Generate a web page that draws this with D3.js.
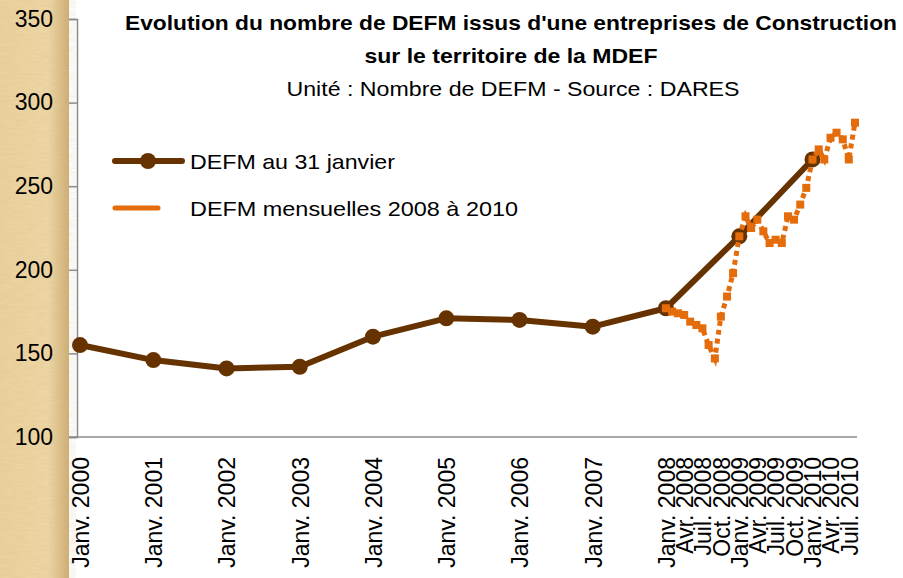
<!DOCTYPE html>
<html>
<head>
<meta charset="utf-8">
<script src="https://cdn.jsdelivr.net/npm/d3@7"></script>
<style>
  body { margin: 0; background: #fff; }
  text { font-family: "Liberation Sans", Arial, sans-serif; fill: #000; }
</style>
</head>
<body>
<div class="chart"></div>
<script>
//Annual values (31 January), Janv. 2000 -> Janv. 2010
var annualYears = [2000, 2001, 2002, 2003, 2004, 2005, 2006, 2007, 2008, 2009, 2010];
var annualValues = [155, 146, 141, 142, 160, 171, 170, 166, 177, 220, 266];

//Monthly values, Janv. 2008 -> Août 2010
var monthlyValues = [
  177, 175, 174, 173, 169, 167, 165, 155, 147, 172, 184, 198,
  220, 232, 225, 230, 223, 216, 218, 216, 232, 230, 239, 249,
  266, 272, 266, 279, 282, 278, 266, 288
];

//Tick labels on the time axis
var yTicks = [100, 150, 200, 250, 300, 350];
var tickYears = [2000, 2001, 2002, 2003, 2004, 2005, 2006, 2007];
var quarterYears = [2008, 2009, 2010];
var quarterMonths = [0, 3, 6, 9];
var monthNames = {0: "Janv.", 3: "Avr.", 6: "Juil.", 9: "Oct."};

var titleLines = [
  "Evolution  du nombre de DEFM issus  d'une entreprises de Construction",
  "sur le territoire de la MDEF",
  "Unité : Nombre de DEFM - Source : DARES"
];
var seriesNames = ["DEFM au 31 janvier", "DEFM mensuelles 2008 à 2010"];

function init(){
  var w = 903, h = 578;
  var brown = "#663300", orange = "#e46c0a";

  var svg = d3.select(".chart").append("svg")
              .attr("width", w)
              .attr("height", h);

  //Parchment strip on the left
  var defs = svg.append("defs");
  var grad = defs.append("linearGradient").attr("id", "parch");
  grad.append("stop").attr("offset", "0%").attr("stop-color", "#ecd39e");
  grad.append("stop").attr("offset", "70%").attr("stop-color", "#efd8a6");
  grad.append("stop").attr("offset", "100%").attr("stop-color", "#cfae74");
  var filt = defs.append("filter").attr("id", "grain");
  filt.append("feTurbulence").attr("type", "fractalNoise")
      .attr("baseFrequency", "0.08 0.5").attr("numOctaves", 3).attr("seed", 4);
  filt.append("feColorMatrix").attr("type", "matrix")
      .attr("values", "0 0 0 0 0.55  0 0 0 0 0.42  0 0 0 0 0.2  0 0 0 0.45 -0.05");

  svg.append("rect").attr("x", 0).attr("y", 0).attr("width", 69).attr("height", h)
     .attr("fill", "url(#parch)");
  svg.append("rect").attr("x", 0).attr("y", 0).attr("width", 69).attr("height", h)
     .attr("filter", "url(#grain)").attr("opacity", 0.55);

  //Scales
  var x = d3.scaleTime()
            .domain([new Date(2000, 0, 1), new Date(2010, 7, 1)])
            .range([80, 855]);
  var y = d3.scaleLinear()
            .domain([100, 350])
            .range([437, 19]);

  //Y axis
  var yAxis = d3.axisLeft(y).tickValues(yTicks).tickSize(8).tickPadding(16);
  var gy = svg.append("g").attr("transform", "translate(77,0)").call(yAxis);
  gy.select(".domain").attr("stroke", "#8c8c8c").attr("stroke-width", 1.5);
  gy.selectAll(".tick line").attr("stroke", "#8c8c8c").attr("stroke-width", 1.5);
  gy.selectAll(".tick text").style("font-size", "23px").attr("fill", "#000");

  //X axis
  var tickDates = tickYears.map(function(yr){ return new Date(yr, 0, 1); });
  quarterYears.forEach(function(yr){
    quarterMonths.forEach(function(m){
      if(yr == 2010 && m > 6) return;
      tickDates.push(new Date(yr, m, 1));
    });
  });
  var xAxis = d3.axisBottom(x).tickValues(tickDates).tickSize(0)
                .tickFormat(function(d){ return monthNames[d.getMonth()] + " " + d.getFullYear(); });
  var gx = svg.append("g").attr("transform", "translate(0," + y(100) + ")").call(xAxis);
  gx.select(".domain").remove();
  gx.append("line")
    .attr("x1", 69).attr("x2", x.range()[1] + 2)
    .attr("stroke", "#8c8c8c").attr("stroke-width", 1.5);
  gx.selectAll(".tick text")
    .style("font-size", "23px").attr("fill", "#000")
    .attr("text-anchor", "end")
    .attr("transform", "rotate(-90)")
    .attr("x", -20).attr("y", 0).attr("dy", "0.36em");

  //Annual series
  var annual = annualYears.map(function(yr, i){ return {date: new Date(yr, 0, 1), v: annualValues[i]}; });
  var line = d3.line().x(function(d){ return x(d.date); }).y(function(d){ return y(d.v); });
  svg.append("path").datum(annual)
     .attr("d", line).attr("fill", "none")
     .attr("stroke", brown).attr("stroke-width", 6).attr("stroke-linejoin", "round");
  svg.selectAll(".dot").data(annual).enter().append("circle")
     .attr("class", "dot")
     .attr("cx", function(d){ return x(d.date); })
     .attr("cy", function(d){ return y(d.v); })
     .attr("r", 8).attr("fill", brown);

  //Monthly series
  var monthly = monthlyValues.map(function(v, i){ return {date: new Date(2008, i, 1), v: v}; });
  svg.append("path").datum(monthly)
     .attr("d", line).attr("fill", "none")
     .attr("stroke", orange).attr("stroke-width", 5)
     .attr("stroke-dasharray", "5,4");
  svg.selectAll(".sq").data(monthly).enter().append("rect")
     .attr("class", "sq")
     .attr("x", function(d){ return x(d.date) - 4; })
     .attr("y", function(d){ return y(d.v) - 4; })
     .attr("width", 8).attr("height", 8).attr("fill", orange);

  //Title
  var titleY = [30, 63, 96], titleLen = [772, 293, 453], titleX = [511, 511, 513];
  titleLines.forEach(function(t, i){
    svg.append("text")
       .attr("x", titleX[i]).attr("y", titleY[i])
       .attr("text-anchor", "middle")
       .attr("textLength", titleLen[i]).attr("lengthAdjust", "spacingAndGlyphs")
       .style("font-size", "21px")
       .style("font-weight", i < 2 ? "bold" : "normal")
       .text(t);
  });

  //Legend
  var lg = svg.append("g");
  lg.append("line").attr("x1", 115).attr("x2", 182).attr("y1", 161).attr("y2", 161)
    .attr("stroke", brown).attr("stroke-width", 6).attr("stroke-linecap", "round");
  lg.append("circle").attr("cx", 148).attr("cy", 161).attr("r", 8).attr("fill", brown);
  lg.append("line").attr("x1", 115).attr("x2", 158).attr("y1", 208).attr("y2", 208)
    .attr("stroke", orange).attr("stroke-width", 5).attr("stroke-linecap", "round");
  var legLen = [205, 328];
  seriesNames.forEach(function(s, i){
    lg.append("text")
      .attr("x", 190).attr("y", 161 + i * 47).attr("dy", "0.36em")
      .attr("textLength", legLen[i]).attr("lengthAdjust", "spacingAndGlyphs")
      .style("font-size", "21px")
      .text(s);
  });
}

window.onload = init;
</script>
</body>
</html>
